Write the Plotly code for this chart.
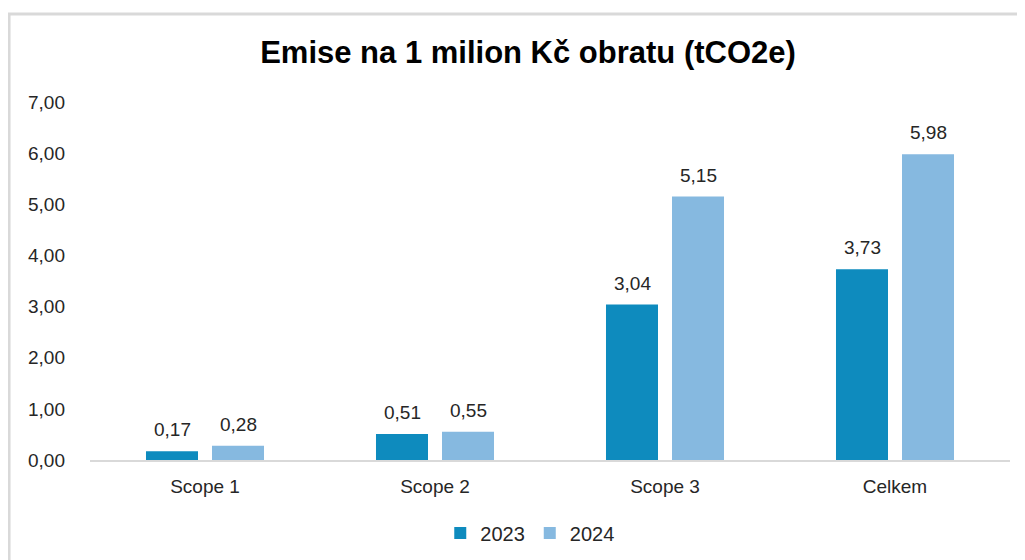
import plotly.graph_objects as go

categories = ["Scope 1", "Scope 2", "Scope 3", "Celkem"]
series_names = ["2023", "2024"]
values_2023 = [0.17, 0.51, 3.04, 3.73]
values_2024 = [0.28, 0.55, 5.15, 5.98]
y_ticks = [0, 1, 2, 3, 4, 5, 6, 7]

colors = ["#0E8BBE", "#86B9E0"]
series = [values_2023, values_2024]
FONT = "Liberation Sans, Arial, sans-serif"

fig = go.Figure()
for name, vals, col in zip(series_names, series, colors):
    fig.add_trace(go.Bar(
        x=categories, y=vals, name=name,
        marker=dict(color=col, line=dict(width=0)),
        hoverinfo="skip",
    ))

annotations = []
for vals, shift in zip(series, [-33, 33]):
    for c, v in zip(categories, vals):
        annotations.append(dict(
            x=c, y=v, xref="x", yref="y", xshift=shift, yshift=9,
            text=f"{v:.2f}".replace(".", ","), showarrow=False,
            yanchor="bottom", xanchor="center",
            font=dict(family=FONT, size=19, color="#262626"),
        ))

fig.update_layout(
    width=1025, height=560,
    margin=dict(l=82, r=23, t=94, b=108),
    paper_bgcolor="white", plot_bgcolor="white",
    separators=",.",
    bargap=0.426, bargroupgap=0.212,
    title=dict(
        text="<b>Emise na 1 milion Kč obratu (tCO2e)</b>",
        x=520 / 1025, xanchor="center", xref="container",
        y=1 - 44 / 560, yref="container", yanchor="middle",
        font=dict(family=FONT, size=31, color="#000000"),
    ),
    showlegend=True,
    legend=dict(
        orientation="h", x=0.478, xanchor="center", y=-0.204, yanchor="middle",
        font=dict(family=FONT, size=20, color="#262626"),
        itemwidth=30, traceorder="normal",
    ),
    xaxis=dict(
        showline=True, linecolor="#D9D9D9", linewidth=2,
        ticks="", showgrid=False,
        tickfont=dict(family=FONT, size=19, color="#262626"),
        ticklabelstandoff=8,
    ),
    yaxis=dict(
        range=[0, 7], tickvals=y_ticks, tickformat=".2f",
        showgrid=False, showline=False, zeroline=False, ticks="",
        tickfont=dict(family=FONT, size=19, color="#262626"),
        ticklabelstandoff=24,
    ),
    annotations=annotations,
    shapes=[dict(
        type="rect", xref="paper", yref="paper",
        x0=-0.088, x1=1.2, y0=-1, y1=1.246,
        line=dict(color="#D9D9D9", width=3), fillcolor="rgba(0,0,0,0)", layer="below",
    )],
)

fig.write_html("out.html")
